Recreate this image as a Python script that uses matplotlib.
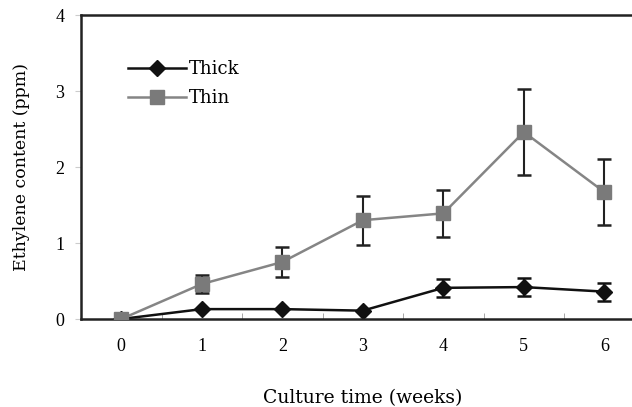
import numpy as np
import matplotlib
matplotlib.use("Agg")
from matplotlib import pyplot as plt
from matplotlib.lines import Line2D

plt.rcParams["font.family"] = ["Liberation Serif", "DejaVu Serif"]

weeks = [0, 1, 2, 3, 4, 5, 6]
thick = [0.0, 0.13, 0.13, 0.11, 0.41, 0.42, 0.36]
thick_err = [0.0, 0.0, 0.0, 0.0, 0.12, 0.12, 0.12]
thin = [0.0, 0.46, 0.75, 1.30, 1.39, 2.46, 1.67]
thin_err = [0.0, 0.12, 0.2, 0.32, 0.31, 0.56, 0.43]

THIN_C = "#858585"
THICK_C = "#111111"

fig = plt.figure(figsize=(6.32, 4.07), dpi=100)
ax = fig.add_axes([81 / 632, 1 - 319 / 407, 1 - 81 / 632 + 0.02, (319 - 15) / 407])

ax.errorbar(weeks, thick, yerr=thick_err, color=THICK_C, lw=1.8, marker="D",
            ms=8, mfc=THICK_C, mec=THICK_C, ecolor=THICK_C, elinewidth=1.5,
            capsize=5, capthick=1.8, zorder=2)
ax.errorbar(weeks, thin, yerr=thin_err, color=THIN_C, lw=1.8, marker="s",
            ms=10, mfc="#7a7a7a", mec="#7a7a7a", ecolor="#222222", elinewidth=1.5,
            capsize=5, capthick=1.8, zorder=3)

ax.set_xlim(-0.5, 6.5)
ax.set_ylim(0, 4)
ax.set_xticks(weeks)
ax.set_xticks(np.arange(0.5, 6, 1), minor=True)
ax.set_yticks([0, 1, 2, 3, 4])
ax.tick_params(axis="x", which="major", length=0, pad=14, labelsize=13)
ax.tick_params(axis="x", which="minor", direction="in", length=4, color="#999999")
ax.tick_params(axis="y", length=4, color="#cccccc", pad=8, labelsize=13)
for s in ax.spines.values():
    s.set_linewidth(1.8)
    s.set_color("#222222")
ax.spines["right"].set_visible(False)

ax.set_xlabel("Culture time (weeks)", fontsize=13.5, labelpad=24,
              family=["DejaVu Serif"])
ax.set_ylabel("Ethylene content (ppm)", fontsize=12.5, labelpad=18,
              family=["DejaVu Serif"])

handles = [
    Line2D([], [], color=THICK_C, lw=1.8, marker="D", ms=8, mfc=THICK_C, mec=THICK_C),
    Line2D([], [], color=THIN_C, lw=1.8, marker="s", ms=10, mfc="#7a7a7a", mec="#7a7a7a"),
]
ax.legend(handles, ["Thick", "Thin"], loc="upper left", bbox_to_anchor=(0.055, 0.905),
          frameon=False, prop={"family": "DejaVu Serif", "size": 13},
          handlelength=3.2, handletextpad=0.15, labelspacing=0.6)

fig.savefig("out.png", dpi=100)
